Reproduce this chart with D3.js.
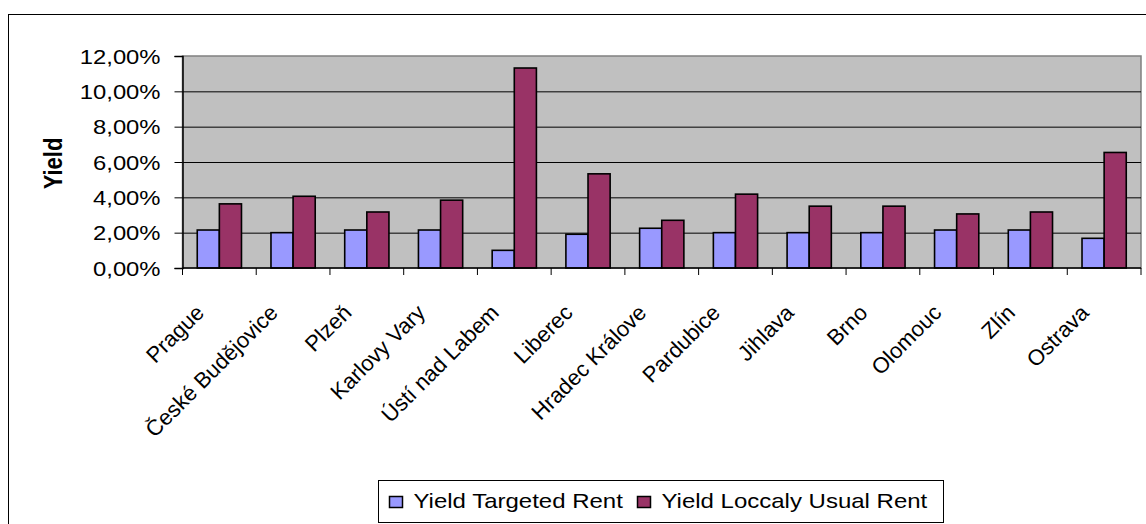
<!DOCTYPE html>
<html>
<head>
<meta charset="utf-8">
<script src="https://cdn.jsdelivr.net/npm/d3@7"></script>
<style>
  body { margin: 0; background: #fff; }
  svg { display: block; font-family: "Liberation Sans", Arial, sans-serif; }
  .domain { stroke: #000; }
</style>
</head>
<body>
<svg id="chart"></svg>
<script>
// chart data (yields as fractions)
var cities = ["Prague", "České Budějovice", "Plzeň", "Karlovy Vary", "Ústí nad Labem", "Liberec",
    "Hradec Králove", "Pardubice", "Jihlava", "Brno", "Olomouc", "Zlín", "Ostrava"];
var seriesNames = ["Yield Targeted Rent", "Yield Loccaly Usual Rent"];
var targetedRent = [0.0215, 0.0200, 0.0215, 0.0215, 0.0100, 0.0191, 0.0225, 0.0200, 0.0200, 0.0200, 0.0215, 0.0215, 0.0168];
var usualRent = [0.0363, 0.0406, 0.0317, 0.0384, 0.1132, 0.0533, 0.0270, 0.0418, 0.0350, 0.0350, 0.0306, 0.0317, 0.0654];
var yTicks = [0, 0.02, 0.04, 0.06, 0.08, 0.10, 0.12];
var colors = ["#9999FF", "#993366"];

var width = 1146;
var height = 524;
var plot = { left: 182.5, right: 1141, top: 56, bottom: 268 };
var SX = 1.19; // text in the original is a bit wider than Arial

var svg = d3.select("#chart").attr("width", width).attr("height", height);

// outer chart frame (right/bottom run off the picture)
svg.append("rect")
    .attr("x", 8.5).attr("y", 14.5)
    .attr("width", 1160).attr("height", 540)
    .attr("fill", "#fff").attr("stroke", "#000").attr("stroke-width", 1);

var cz = d3.formatLocale({ decimal: ",", thousands: " ", grouping: [3], currency: ["", " Kč"] });
var pct = cz.format(".2%");

var x = d3.scaleBand()
    .domain(cities)
    .range([plot.left, plot.right])
    .paddingInner(0.4)
    .paddingOuter(0.2);

var xs = d3.scaleBand()
    .domain(seriesNames)
    .range([0, x.bandwidth()]);

var y = d3.scaleLinear()
    .domain([0, 0.12])
    .range([plot.bottom, plot.top]);

// plot background
svg.append("rect")
    .attr("x", plot.left).attr("y", plot.top)
    .attr("width", plot.right - plot.left).attr("height", plot.bottom - plot.top)
    .attr("fill", "#C0C0C0")
    .attr("stroke", "#808080").attr("stroke-width", 1.5);

// gridlines
svg.append("g")
    .attr("transform", "translate(" + plot.left + ",0)")
    .call(d3.axisLeft(y).tickValues(yTicks.slice(1, -1)).tickSize(-(plot.right - plot.left)).tickFormat(""))
    .call(function (g) {
        g.select(".domain").remove();
        g.selectAll("line").attr("stroke", "#000").attr("stroke-width", 1);
    });

// bars
var rows = cities.map(function (c, i) {
    return { city: c, values: [targetedRent[i], usualRent[i]] };
});

var groups = svg.append("g").selectAll("g")
    .data(rows)
    .enter().append("g")
    .attr("transform", function (d) { return "translate(" + x(d.city) + ",0)"; });

groups.selectAll("rect")
    .data(function (d) {
        return d.values.map(function (v, j) { return { name: seriesNames[j], value: v, j: j }; });
    })
    .enter().append("rect")
    .attr("x", function (d) { return xs(d.name); })
    .attr("y", function (d) { return y(d.value); })
    .attr("width", xs.bandwidth())
    .attr("height", function (d) { return y(0) - y(d.value); })
    .attr("fill", function (d) { return colors[d.j]; })
    .attr("stroke", "#000")
    .attr("stroke-width", 1.6);

// y axis
svg.append("g")
    .attr("transform", "translate(" + plot.left + ",0)")
    .call(d3.axisLeft(y).tickValues(yTicks).tickSize(8).tickPadding(14).tickFormat(pct))
    .call(function (g) {
        g.select(".domain").attr("stroke-width", 1.5);
        g.selectAll("line").attr("stroke", "#000");
        g.selectAll("text")
            .attr("fill", "#000")
            .attr("font-size", 20)
            .attr("font-family", "\"Liberation Sans\", Arial, sans-serif")
            .attr("x", 0)
            .attr("dy", "0.35em")
            .attr("transform", "translate(-22,0) scale(" + SX + ",1)");
    });

// x axis: line + ticks on category boundaries
var boundaries = cities.map(function (c) { return x(c) - x.step() * x.paddingInner() / 2; });
boundaries.push(plot.right);

var xAxis = svg.append("g");
xAxis.append("line")
    .attr("x1", plot.left).attr("x2", plot.right)
    .attr("y1", plot.bottom).attr("y2", plot.bottom)
    .attr("stroke", "#000").attr("stroke-width", 1.5);
xAxis.selectAll(".tick")
    .data(boundaries)
    .enter().append("line")
    .attr("x1", function (d) { return d; }).attr("x2", function (d) { return d; })
    .attr("y1", plot.bottom).attr("y2", plot.bottom + 7)
    .attr("stroke", "#000");

// category labels, rotated 45 degrees, ending just left of the band centre
xAxis.selectAll("text")
    .data(cities)
    .enter().append("text")
    .attr("text-anchor", "end")
    .attr("font-size", 22)
    .attr("transform", function (d) {
        var cx = x(d) + x.bandwidth() / 2;
        return "translate(" + (cx - 14) + "," + 314 + ") rotate(-45)";
    })
    .text(function (d) { return d; });

// y label
svg.append("text")
    .attr("text-anchor", "middle")
    .attr("font-size", 22)
    .attr("font-weight", "bold")
    .attr("transform", "translate(61.5,163.5) scale(" + SX + ",1) rotate(-90)")
    .text("Yield");

// legend
var legend = svg.append("g");
legend.append("rect")
    .attr("x", 378.5).attr("y", 480.5)
    .attr("width", 565).attr("height", 42)
    .attr("fill", "#fff").attr("stroke", "#000").attr("stroke-width", 1);

var legendX = [389.5, 637.5];
var items = legend.selectAll("g")
    .data(seriesNames)
    .enter().append("g")
    .attr("transform", function (d, i) { return "translate(" + legendX[i] + ",0)"; });

items.append("rect")
    .attr("x", 0).attr("y", 496.5)
    .attr("width", 13).attr("height", 11)
    .attr("fill", function (d, i) { return colors[i]; })
    .attr("stroke", "#000").attr("stroke-width", 1.5);

items.append("text")
    .attr("font-size", 20)
    .attr("transform", "translate(24,507.5) scale(1.2,1)")
    .text(function (d) { return d; });
</script>
</body>
</html>
